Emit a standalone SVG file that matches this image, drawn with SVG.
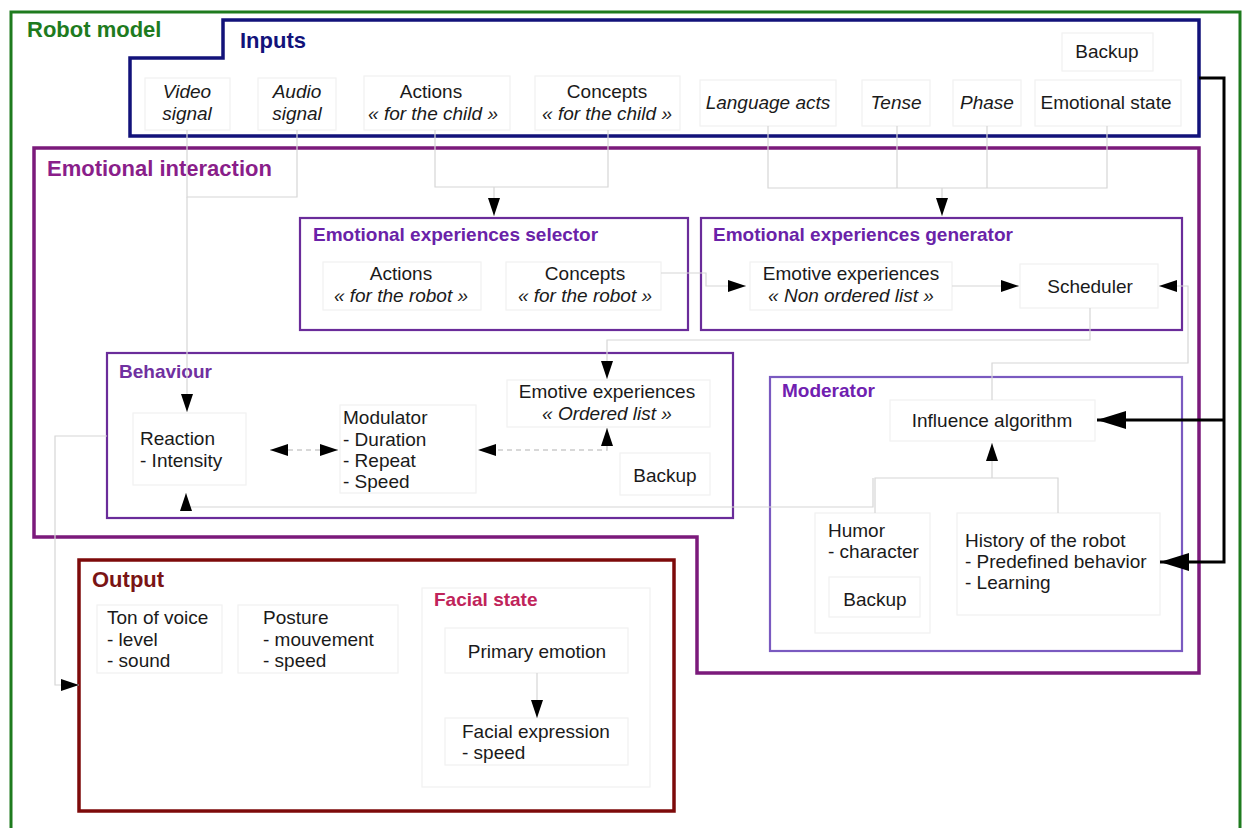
<svg xmlns="http://www.w3.org/2000/svg" width="1245" height="828" viewBox="0 0 1245 828">
<style>
text{font-family:"Liberation Sans",Arial,sans-serif;font-size:19px;fill:#1a1a1a}
.i{font-style:italic}
.c{text-anchor:middle}
.big{font-size:22px;font-weight:bold}
.sub{font-size:19px;font-weight:bold}
.faint{fill:#ffffff;stroke:#f1f1f1;stroke-width:1.2}
.conn{fill:none;stroke:#d6d6d6;stroke-width:1.2}
.dash{fill:none;stroke:#cccccc;stroke-width:1.5;stroke-dasharray:5 4}
.thick{fill:none;stroke:#000;stroke-width:3}
</style>
<defs>
<marker id="a" markerUnits="userSpaceOnUse" markerWidth="20" markerHeight="14" refX="18" refY="7" orient="auto">
<path d="M0,1 L18,7 L0,13 Z" fill="#000"/>
</marker>
<marker id="as" markerUnits="userSpaceOnUse" markerWidth="20" markerHeight="14" refX="18" refY="7" orient="auto-start-reverse">
<path d="M0,1 L18,7 L0,13 Z" fill="#000"/>
</marker>
<marker id="ab" markerUnits="userSpaceOnUse" markerWidth="30" markerHeight="18" refX="29" refY="9" orient="auto">
<path d="M0,0 L29,9 L0,18 Z" fill="#000"/>
</marker>
</defs>
<rect width="1245" height="828" fill="#fff"/>

<g id="robot-model">
<rect x="11" y="12" width="1229" height="830" fill="none" stroke="#1e7b1e" stroke-width="3"/>
<text x="27" y="37" class="big" style="fill:#1e7b1e">Robot model</text>
</g>

<g id="inputs">
<path d="M130,58 H223 V20 H1199 V136 H130 Z" fill="none" stroke="#12127a" stroke-width="3.5"/>
<text x="240" y="48" class="big" style="fill:#12127a">Inputs</text>
<rect class="faint" x="145" y="78" width="85" height="52"/>
<text x="187" y="98" class="i c">Video</text>
<text x="187" y="120" class="i c">signal</text>
<rect class="faint" x="258" y="78" width="78" height="52"/>
<text x="297" y="98" class="i c">Audio</text>
<text x="297" y="120" class="i c">signal</text>
<rect class="faint" x="364" y="76" width="146" height="54"/>
<text x="431" y="98" class="c">Actions</text>
<text x="433" y="120" class="i c">« for the child »</text>
<rect class="faint" x="535" y="76" width="145" height="54"/>
<text x="607" y="98" class="c">Concepts</text>
<text x="607" y="120" class="i c">« for the child »</text>
<rect class="faint" x="700" y="80" width="136" height="46"/>
<text x="768" y="109" class="i c">Language acts</text>
<rect class="faint" x="862" y="80" width="68" height="46"/>
<text x="896" y="109" class="i c">Tense</text>
<rect class="faint" x="953" y="80" width="68" height="46"/>
<text x="987" y="109" class="i c">Phase</text>
<rect class="faint" x="1035" y="80" width="146" height="46"/>
<text x="1106" y="109" class="c">Emotional state</text>
<rect class="faint" x="1062" y="33" width="91" height="38"/>
<text x="1107" y="58" class="c">Backup</text>
</g>

<g id="emotional-interaction">
<path d="M34,148 H1199 V673 H697 V537 H34 Z" fill="none" stroke="#7b1a7b" stroke-width="3.5"/>
<text x="47" y="176" class="big" style="fill:#8a1e8a">Emotional interaction</text>
</g>

<g id="selector">
<rect x="300" y="218" width="388" height="112" fill="none" stroke="#6a2c9a" stroke-width="2.2"/>
<text x="313" y="241" class="sub" style="fill:#6a22a8">Emotional experiences selector</text>
<rect class="faint" x="323" y="262" width="158" height="48"/>
<text x="401" y="280" class="c">Actions</text>
<text x="401" y="302" class="i c">« for the robot »</text>
<rect class="faint" x="506" y="262" width="155" height="48"/>
<text x="585" y="280" class="c">Concepts</text>
<text x="585" y="302" class="i c">« for the robot »</text>
</g>

<g id="generator">
<rect x="701" y="218" width="481" height="112" fill="none" stroke="#6a2c9a" stroke-width="2.2"/>
<text x="713" y="241" class="sub" style="fill:#6a22a8">Emotional experiences generator</text>
<rect class="faint" x="750" y="262" width="202" height="48"/>
<text x="851" y="280" class="c">Emotive experiences</text>
<text x="851" y="302" class="i c">« Non ordered list »</text>
<rect class="faint" x="1020" y="264" width="138" height="44"/>
<text x="1090" y="293" class="c">Scheduler</text>
</g>

<g id="behaviour">
<rect x="107" y="353" width="626" height="165" fill="none" stroke="#6a2c9a" stroke-width="2.2"/>
<text x="119" y="378" class="sub" style="fill:#7030a0">Behaviour</text>
<rect class="faint" x="133" y="413" width="113" height="72"/>
<text x="140" y="445">Reaction</text>
<text x="140" y="467">- Intensity</text>
<rect class="faint" x="340" y="405" width="136" height="88"/>
<text x="343" y="424">Modulator</text>
<text x="343" y="446">- Duration</text>
<text x="343" y="467">- Repeat</text>
<text x="343" y="488">- Speed</text>
<rect class="faint" x="507" y="380" width="203" height="47"/>
<text x="607" y="398" class="c">Emotive experiences</text>
<text x="607" y="420" class="i c">« Ordered list »</text>
<rect class="faint" x="620" y="453" width="90" height="42"/>
<text x="665" y="482" class="c">Backup</text>
</g>

<g id="moderator">
<rect x="770" y="377" width="412" height="274" fill="none" stroke="#7a5ac0" stroke-width="2.2"/>
<text x="782" y="397" class="sub" style="fill:#7020b0">Moderator</text>
<rect class="faint" x="890" y="400" width="205" height="41"/>
<text x="992" y="427" class="c">Influence algorithm</text>
<rect class="faint" x="815" y="513" width="115" height="120"/>
<text x="828" y="537">Humor</text>
<text x="828" y="558">- character</text>
<rect class="faint" x="829" y="577" width="91" height="40"/>
<text x="875" y="606" class="c">Backup</text>
<rect class="faint" x="957" y="513" width="203" height="102"/>
<text x="965" y="547">History of the robot</text>
<text x="965" y="568">- Predefined behavior</text>
<text x="965" y="589">- Learning</text>
</g>

<g id="output">
<rect x="79" y="560" width="595" height="251" fill="none" stroke="#7d0a0a" stroke-width="3.5"/>
<text x="92" y="587" class="big" style="fill:#7a1414">Output</text>
<rect class="faint" x="97" y="605" width="125" height="68"/>
<text x="107" y="624">Ton of voice</text>
<text x="107" y="646">- level</text>
<text x="107" y="667">- sound</text>
<rect class="faint" x="238" y="605" width="160" height="68"/>
<text x="263" y="624">Posture</text>
<text x="263" y="646">- mouvement</text>
<text x="263" y="667">- speed</text>
</g>

<g id="facial-state">
<rect class="faint" x="422" y="588" width="228" height="199"/>
<text x="434" y="606" class="sub" style="fill:#c0245a">Facial state</text>
<rect class="faint" x="445" y="628" width="183" height="45"/>
<text x="537" y="658" class="c">Primary emotion</text>
<rect class="faint" x="445" y="718" width="183" height="47"/>
<text x="462" y="738">Facial expression</text>
<text x="462" y="759">- speed</text>
</g>

<g id="connectors">
<path class="conn" d="M187,130 V197 H297 V130"/>
<path class="conn" d="M187,197 V412" marker-end="url(#a)"/>
<path class="conn" d="M435,130 V187 H608 V130"/>
<path class="conn" d="M494,187 V216" marker-end="url(#a)"/>
<path class="conn" d="M768,126 V188 H1107 V126 M897,126 V188 M987,126 V188"/>
<path class="conn" d="M942,188 V216" marker-end="url(#a)"/>
<path class="conn" d="M661,273 H706 V286 H746" marker-end="url(#a)"/>
<path class="conn" d="M952,286 H1019" marker-end="url(#a)"/>
<path class="conn" d="M1090,308 V340 H607 V379" marker-end="url(#a)"/>
<path class="conn" d="M992,400 V363 H1188 V286 H1159" marker-end="url(#a)"/>
<path class="dash" d="M270,450 H338" marker-start="url(#as)" marker-end="url(#a)"/>
<path class="dash" d="M607,428 V450 H478" marker-start="url(#as)" marker-end="url(#a)"/>
<path class="conn" d="M875,513 V478 H1058 V513"/>
<path class="conn" d="M992,478 V443" marker-end="url(#a)"/>
<path class="conn" d="M873,478 V507 H186 V493" marker-end="url(#a)"/>
<path class="conn" d="M107,436 H55 V685 H79" marker-end="url(#a)"/>
<path class="conn" d="M537,673 V718" marker-end="url(#a)"/>
<path class="thick" d="M1199,78 H1224 V562 H1160" marker-end="url(#ab)"/>
<path class="thick" d="M1224,420 H1097" marker-end="url(#ab)"/>
</g>
</svg>
